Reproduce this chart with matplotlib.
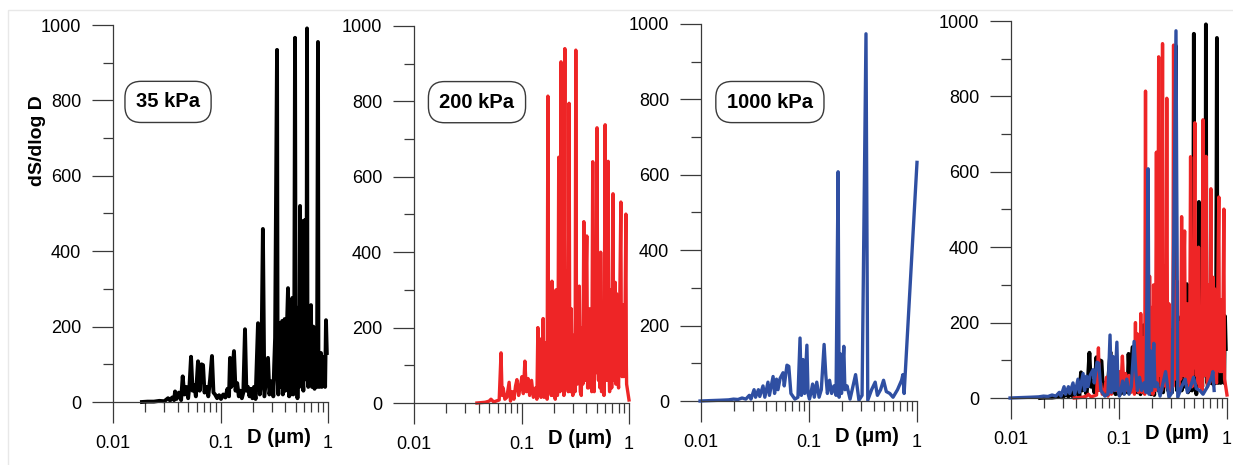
import matplotlib
matplotlib.use("Agg")
import matplotlib.pyplot as plt
from matplotlib.patches import Rectangle
from matplotlib.ticker import MultipleLocator, NullFormatter, FixedLocator, FixedFormatter

plt.rcParams['font.family'] = ['Liberation Sans', 'DejaVu Sans']

# 35 kPa (black)
d_35 = [0.0186, 0.021, 0.024, 0.027, 0.030, 0.0325, 0.034, 0.0355, 0.037, 0.0378,
        0.039, 0.041, 0.043, 0.0445, 0.046, 0.048, 0.050, 0.0515, 0.0532, 0.055,
        0.057, 0.059, 0.0618, 0.064, 0.0665, 0.0688, 0.071, 0.074, 0.077, 0.080,
        0.0833, 0.086, 0.089, 0.093, 0.097, 0.101, 0.106, 0.111, 0.116, 0.120,
        0.1226, 0.126, 0.1335, 0.138, 0.143, 0.148, 0.153, 0.158, 0.163, 0.169,
        0.174, 0.180, 0.186, 0.192, 0.198, 0.205, 0.212, 0.2233, 0.232, 0.239,
        0.248, 0.256, 0.2766, 0.285, 0.298, 0.31, 0.316, 0.322, 0.3357, 0.340,
        0.345, 0.35, 0.355, 0.36, 0.365, 0.37, 0.375, 0.38, 0.385, 0.39,
        0.395, 0.40, 0.405, 0.415, 0.4248, 0.43, 0.435, 0.44, 0.445, 0.45,
        0.455, 0.46, 0.465, 0.47, 0.475, 0.485, 0.4935, 0.50, 0.505, 0.512,
        0.52, 0.53, 0.54, 0.5495, 0.555, 0.56, 0.567, 0.575, 0.582, 0.59,
        0.60, 0.611, 0.618, 0.625, 0.632, 0.638, 0.645, 0.655, 0.663, 0.672,
        0.68, 0.687, 0.695, 0.70, 0.71, 0.72, 0.73, 0.74, 0.75, 0.76,
        0.775, 0.79, 0.807, 0.815, 0.83, 0.845, 0.861, 0.875, 0.89, 0.91,
        0.93, 0.94, 0.958, 0.975]
s_35 = [0, 1, 1, 3, 2, 10, 4, 12, 5, 28,
        8, 25, 5, 68, 20, 40, 10, 45, 120, 30,
        45, 15, 108, 30, 100, 98, 25, 40, 15, 60,
        122, 25, 20, 10, 18, 8, 20, 12, 35, 15,
        117, 40, 135, 30, 50, 15, 30, 10, 25, 193,
        30, 40, 15, 35, 10, 40, 8, 209, 20, 50,
        459, 15, 117, 20, 55, 15, 100, 170, 934, 60,
        20, 150, 210, 40, 40, 180, 215, 20, 30, 160,
        220, 30, 70, 200, 302, 40, 15, 120, 180, 20,
        50, 230, 276, 30, 20, 150, 966, 100, 60, 250,
        10, 200, 40, 520, 150, 80, 250, 480, 60, 30,
        250, 483, 80, 60, 200, 991, 100, 40, 150, 200,
        50, 180, 257, 60, 40, 150, 200, 40, 35, 180,
        150, 40, 955, 60, 40, 100, 130, 40, 50, 110,
        120, 40, 217, 130]

# 200 kPa (red)
d_200 = [0.0385, 0.042, 0.046, 0.050, 0.052, 0.055, 0.058, 0.062, 0.0645, 0.066,
         0.0675, 0.070, 0.073, 0.0767, 0.079, 0.082, 0.085, 0.088, 0.0907, 0.094,
         0.097, 0.101, 0.104, 0.1075, 0.111, 0.115, 0.119, 0.124, 0.129, 0.135,
         0.139, 0.142, 0.144, 0.146, 0.148, 0.150, 0.152, 0.155, 0.157, 0.159,
         0.162, 0.164, 0.167, 0.170, 0.173, 0.176, 0.178, 0.181, 0.184, 0.186,
         0.189, 0.192, 0.194, 0.196, 0.198, 0.200, 0.203, 0.206, 0.209, 0.212,
         0.216, 0.219, 0.222, 0.225, 0.228, 0.233, 0.236, 0.240, 0.244, 0.248,
         0.253, 0.256, 0.260, 0.264, 0.268, 0.272, 0.277, 0.281, 0.285, 0.29,
         0.295, 0.30, 0.305, 0.31, 0.315, 0.32, 0.325, 0.33, 0.337, 0.345,
         0.352, 0.36, 0.366, 0.372, 0.380, 0.385, 0.39, 0.397, 0.405, 0.412,
         0.42, 0.428, 0.435, 0.44, 0.45, 0.46, 0.467, 0.475, 0.483, 0.49,
         0.504, 0.512, 0.52, 0.53, 0.537, 0.545, 0.555, 0.565, 0.575, 0.585,
         0.60, 0.61, 0.62, 0.63, 0.64, 0.65, 0.66, 0.668, 0.675, 0.68,
         0.69, 0.71, 0.72, 0.73, 0.745, 0.755, 0.765, 0.78, 0.80, 0.82,
         0.84, 0.85, 0.86, 0.872, 0.885, 0.895, 0.91, 0.92, 0.935, 0.945,
         0.95, 1.0]
s_200 = [0, 1, 2, 5, 10, 3, 5, 8, 133, 20,
         40, 10, 15, 55, 5, 30, 10, 45, 62, 20,
         40, 70, 25, 111, 30, 65, 20, 60, 15, 40,
         10, 200, 60, 20, 170, 120, 15, 90, 30, 224,
         15, 160, 40, 140, 10, 814, 150, 30, 200, 150,
         20, 323, 100, 20, 180, 240, 30, 10, 300, 120,
         20, 200, 652, 100, 30, 905, 150, 60, 400, 20,
         940, 100, 40, 350, 200, 30, 795, 150, 30, 250,
         100, 20, 40, 180, 30, 936, 150, 50, 250, 310,
         30, 20, 200, 50, 481, 100, 60, 300, 443, 40,
         40, 250, 60, 200, 30, 640, 100, 30, 300, 80,
         730, 150, 60, 350, 40, 400, 30, 40, 200, 20,
         738, 100, 60, 400, 641, 100, 30, 300, 60, 290,
         40, 555, 120, 60, 320, 50, 290, 80, 40, 260,
         533, 100, 70, 200, 260, 70, 80, 250, 501, 100,
         50, 8]

# 1000 kPa (blue)
d_1000 = [0.0098, 0.012, 0.015, 0.018, 0.020, 0.022, 0.024, 0.026, 0.028, 0.029,
          0.031, 0.032, 0.034, 0.035, 0.0375, 0.039, 0.0417, 0.043, 0.0465, 0.048,
          0.050, 0.0516, 0.054, 0.0575, 0.059, 0.0625, 0.065, 0.068, 0.074, 0.079,
          0.0826, 0.085, 0.088, 0.091, 0.0956, 0.098, 0.101, 0.104, 0.108, 0.112,
          0.118, 0.124, 0.130, 0.138, 0.143, 0.148, 0.155, 0.162, 0.170, 0.178,
          0.186, 0.190, 0.195, 0.200, 0.21, 0.215, 0.225, 0.24, 0.27, 0.29,
          0.31, 0.337, 0.35, 0.38, 0.41, 0.43, 0.46, 0.49, 0.52, 0.56,
          0.60, 0.66, 0.72, 0.74, 0.76, 1.0]
s_1000 = [0, 1, 2, 3, 5, 4, 8, 5, 15, 5,
          30, 10, 30, 12, 40, 10, 50, 15, 65, 20,
          58, 30, 60, 75, 40, 95, 92, 20, 5, 10,
          167, 15, 110, 20, 148, 20, 5, 20, 45, 10,
          50, 10, 30, 150, 70, 20, 55, 20, 40, 15,
          608, 10, 125, 20, 145, 30, 40, 5, 70, 2,
          15, 974, 2, 30, 50, 15, 30, 55, 25, 20,
          10, 30, 55, 70, 20, 633]

labels = ["35 kPa", "200 kPa", "1000 kPa"]
colors = ["#000000", "#ee2526", "#2f4fa2"]
widths = [2.8, 2.4, 2.4]
series = [(d_35, s_35), (d_200, s_200), (d_1000, s_1000)]
# the combined panel stops the 1000 kPa curve before its last point
overlay = [(d_35, s_35), (d_200, s_200), (d_1000[:-1], s_1000[:-1])]

W, H = 1233, 465
fig = plt.figure(figsize=(W / 100, H / 100), dpi=100)

# faint frame of the original screenshot
fig.add_artist(Rectangle((8 / W, -0.1), 1.2, 1.1 - 10 / H, transform=fig.transFigure,
                         fill=False, edgecolor="#e8e8e8", lw=1))

# axes boxes in pixels: left, right, top, bottom
boxes = [(113, 328, 25, 402), (414, 629, 26, 403), (701, 917, 24, 401), (1011, 1227, 21, 398)]
label_pos = [(0.256, 0.796), (0.293, 0.798), (0.319, 0.793)]
axc = "#3a3a3a"

for i, (l, r, t, b) in enumerate(boxes):
    ax = fig.add_axes((l / W, (H - b) / H, (r - l) / W, (b - t) / H))
    if i < 3:
        d, s = series[i]
        ax.plot(d, s, color=colors[i], lw=widths[i], clip_on=False)
        ax.text(*label_pos[i], labels[i], transform=ax.transAxes, ha="center", va="center",
                fontsize=14.5, fontweight="bold",
                bbox=dict(boxstyle="round,pad=0.55,rounding_size=0.8", fc="white", ec=axc, lw=1))
    else:
        for (d, s), c, w in zip(overlay, colors, widths):
            ax.plot(d, s, color=c, lw=w, clip_on=False)

    ax.set_xscale("log")
    ax.set_xlim(0.01, 1)
    ax.set_ylim(0, 1000)
    ax.xaxis.set_major_locator(FixedLocator([0.01, 0.1, 1]))
    ax.xaxis.set_major_formatter(FixedFormatter(["0.01", "0.1", "1"]))
    ax.xaxis.set_minor_formatter(NullFormatter())
    ax.yaxis.set_major_locator(MultipleLocator(200))
    ax.yaxis.set_minor_locator(MultipleLocator(100))
    for sp in ("top", "right"):
        ax.spines[sp].set_visible(False)
    for sp in ("left", "bottom"):
        ax.spines[sp].set_color(axc)
        ax.spines[sp].set_linewidth(0.9)
    ax.tick_params(which="major", direction="out", length=15, width=0.9, color=axc,
                   labelsize=13, pad=8)
    ax.tick_params(which="minor", direction="out", length=7.5, width=0.9, color=axc)
    ax.tick_params(axis="x", which="major", pad=9)
    ax.text(0.77, -0.093, "D (\u03bcm)", transform=ax.transAxes, ha="center", va="center",
            fontsize=14.5, fontweight="bold")
    if i == 0:
        ax.text(-0.353, 0.692, "dS/dlog D", transform=ax.transAxes, rotation=90,
                ha="center", va="center", fontsize=14, fontweight="bold")

fig.savefig("out.png", dpi=100)
